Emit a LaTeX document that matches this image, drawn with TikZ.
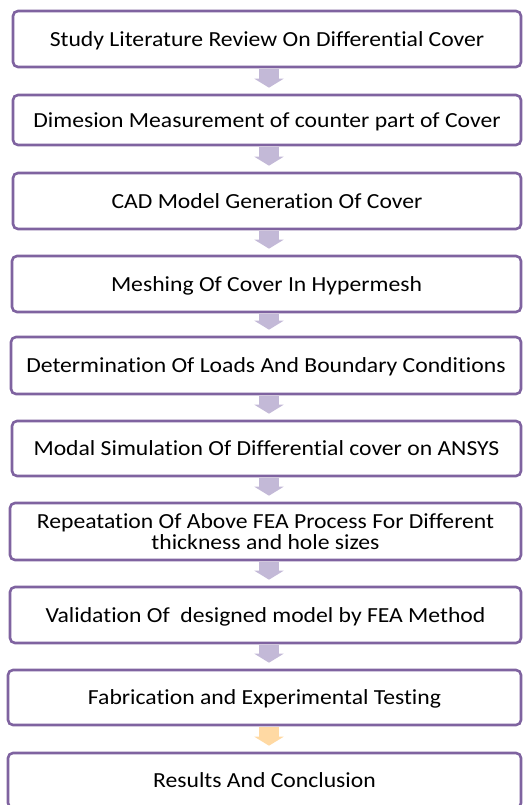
\documentclass[tikz,border=0pt]{standalone}
\usepackage{graphicx}
\usepackage{fontspec}
\setmainfont[RawFeature=-liga]{Carlito}
\usetikzlibrary{arrows.meta}
\definecolor{boxline}{HTML}{7F63A0}
\definecolor{lilac}{HTML}{C3B9D7}
\definecolor{peach}{HTML}{FFD9A3}
\tikzset{
  stepbox/.style={draw=boxline, line width=2.6pt, rounded corners=5pt, fill=white,
    inner sep=0pt, font=\fontsize{21.5}{21.5}\selectfont},
  flow/.style={line width=20pt, draw=#1, -{Triangle[width=29pt,length=9pt]},
    shorten <=1pt, shorten >=6pt},
  flow/.default=lilac
}
% slightly widened label text, set a little below the box centre
\newcommand\steptext[1]{\raisebox{-3pt}[\height][\depth]{\scalebox{1.1}[1]{\begin{tabular}{@{}c@{}}#1\end{tabular}}}}
\begin{document}
\begin{tikzpicture}[x=1pt,y=-1pt]
\useasboundingbox (0,0) rectangle (523,805);
\clip (0,0) rectangle (523,805);
% box(name, left, right, top, bottom, text)
\newcommand\flowbox[6]{%
  \node[stepbox, minimum width={#3-#2}, minimum height={#5-#4}]
    (#1) at ({(#2+#3)/2},{(#4+#5)/2}) {\steptext{#6}};}
\flowbox{s1}{13}{521}{11}{67}{Study Literature Review On Differential Cover}
\flowbox{s2}{13}{521}{95}{145}{Dimesion Measurement of counter part of Cover}
\flowbox{s3}{13}{521}{173}{229}{CAD Model Generation Of Cover}
\flowbox{s4}{12}{521}{256}{312}{Meshing Of Cover In Hypermesh}
\flowbox{s5}{11}{521}{337}{394}{Determination Of Loads And Boundary Conditions}
\flowbox{s6}{12}{521}{421}{476}{Modal Simulation Of Differential cover on ANSYS}
\flowbox{s7}{10}{521}{503}{560}{Repeatation Of Above FEA Process For Different\\thickness and hole sizes}
\flowbox{s8}{10}{521}{587}{643}{Validation Of \ designed model by FEA Method}
\flowbox{s9}{8}{521}{670}{725}{Fabrication and Experimental Testing}
\flowbox{s10}{8}{521}{753}{808}{Results And Conclusion}
% arrows between consecutive steps
\foreach \a/\b in {s1/s2,s2/s3,s3/s4,s4/s5,s5/s6,s6/s7,s7/s8,s8/s9}
  \draw[flow] (\a.south -| 269,0) -- (\b.north -| 269,0);
\draw[flow=peach] (s9.south -| 269,0) -- (s10.north -| 269,0);
\end{tikzpicture}
\end{document}
